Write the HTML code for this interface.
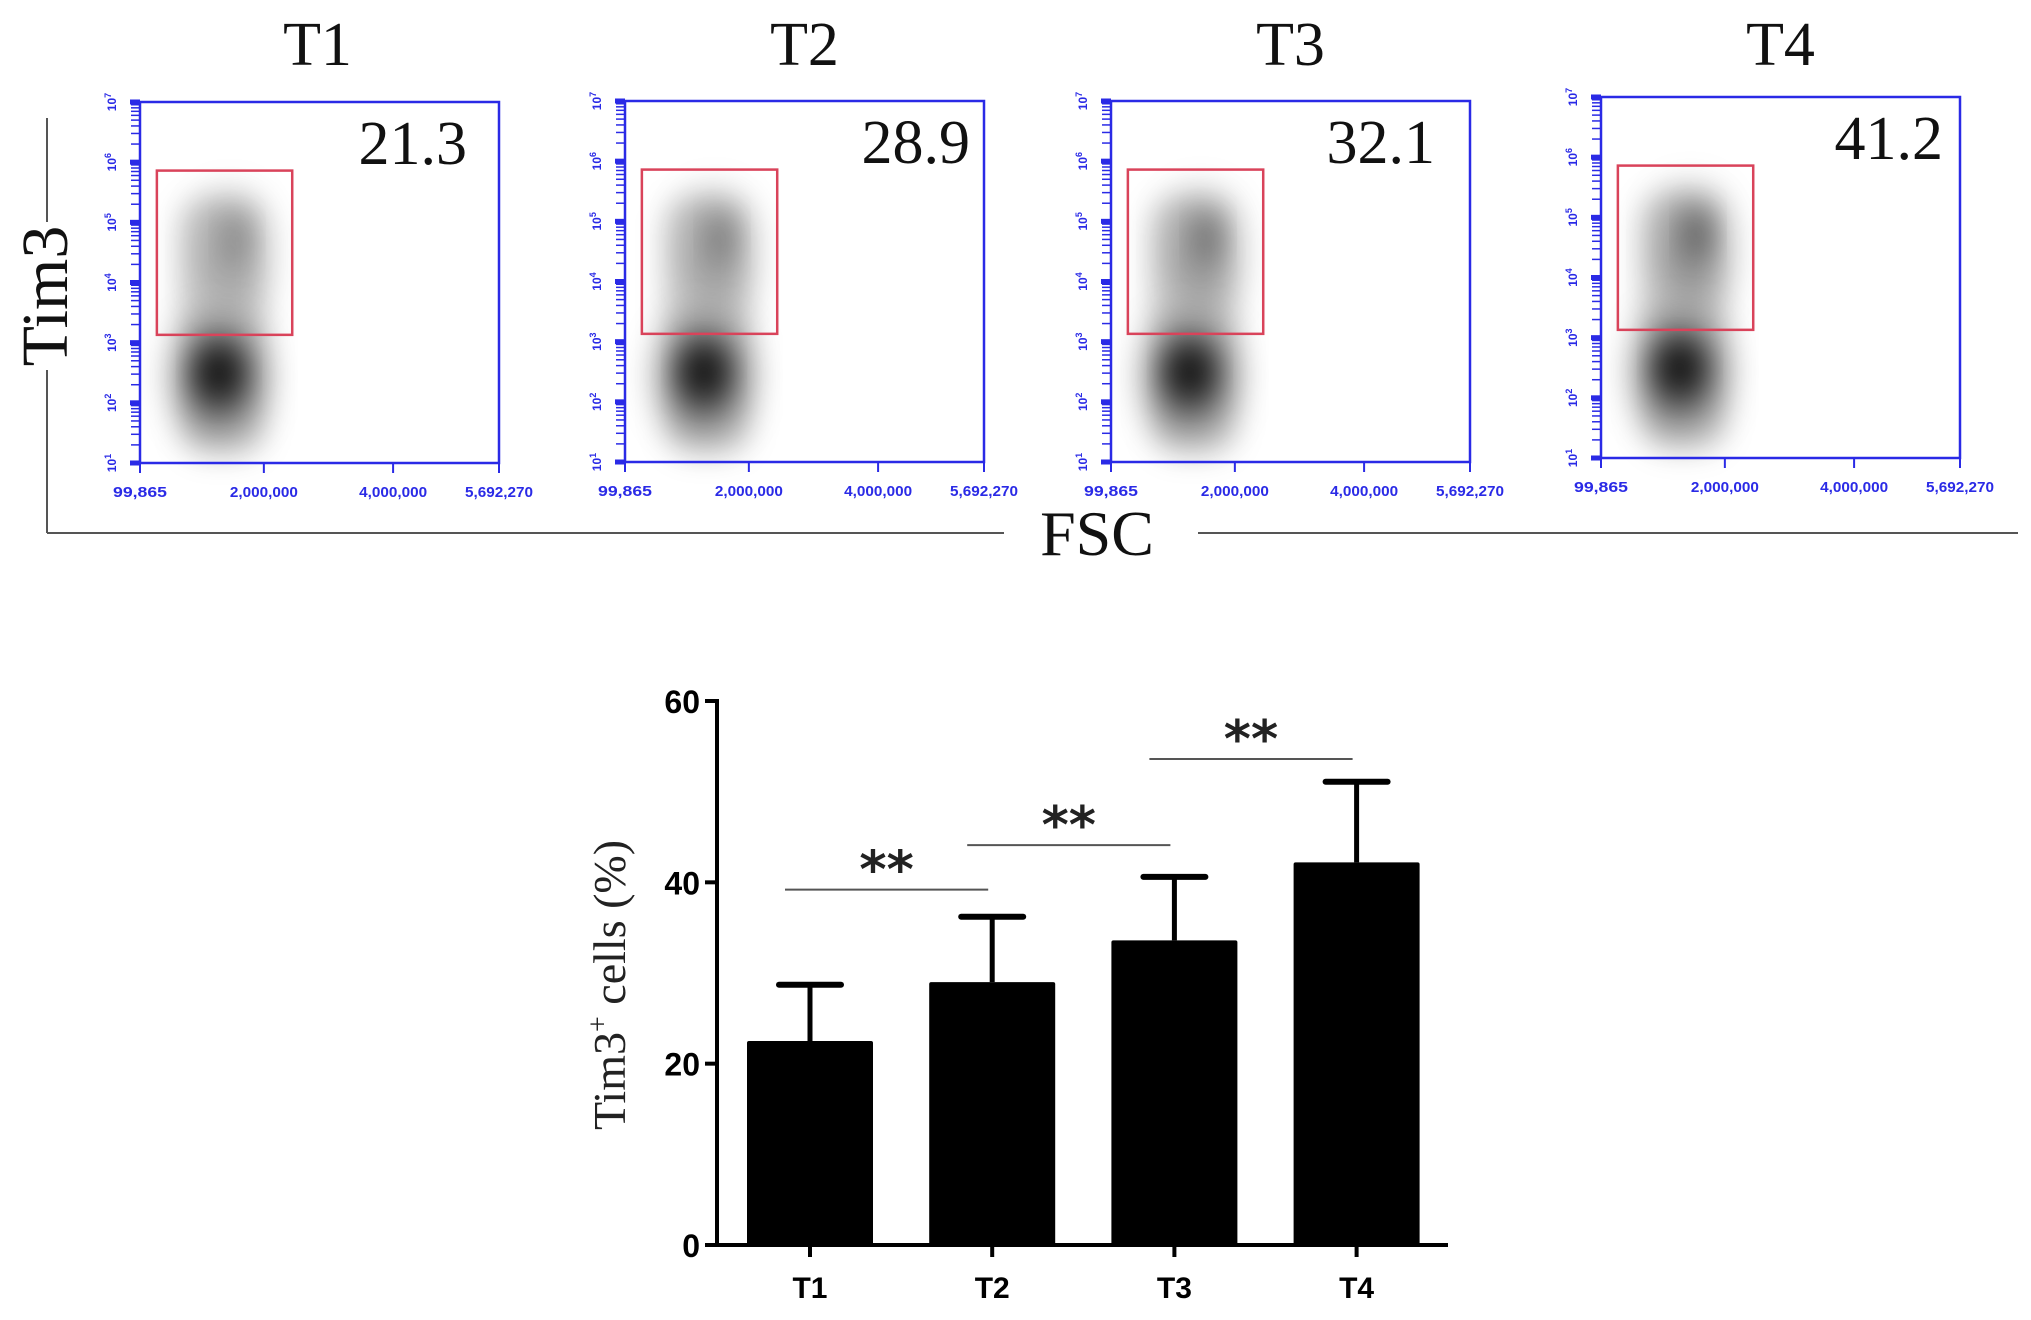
<!DOCTYPE html>
<html><head><meta charset="utf-8"><style>
html,body{margin:0;padding:0;background:#fff}
svg{display:block}
</style></head><body>
<svg id="fig" width="2031" height="1320" viewBox="0 0 2031 1320" xmlns="http://www.w3.org/2000/svg">
<defs>
<filter id="blur8" x="-50%" y="-50%" width="200%" height="200%"><feGaussianBlur stdDeviation="8"/></filter>
<filter id="blur14" x="-50%" y="-50%" width="200%" height="200%"><feGaussianBlur stdDeviation="14"/></filter>
<filter id="blur20" x="-50%" y="-50%" width="200%" height="200%"><feGaussianBlur stdDeviation="20"/></filter>
</defs>
<g id="flow"></g>
<g>
<line x1="47" y1="118" x2="47" y2="222" stroke="#555" stroke-width="2"/>
<line x1="47" y1="370" x2="47" y2="533" stroke="#555" stroke-width="2"/>
<line x1="47" y1="533" x2="1004" y2="533" stroke="#555" stroke-width="2"/>
<line x1="1198" y1="533" x2="2018" y2="533" stroke="#555" stroke-width="2"/>
<text x="0" y="0" transform="translate(67,296) rotate(-90)" text-anchor="middle" font-family="Liberation Serif, serif" font-size="66" fill="#111">Tim3</text>
<text x="1097" y="555" text-anchor="middle" font-family="Liberation Serif, serif" font-size="64" fill="#111">FSC</text>
</g>
<g id="bars"></g>
</svg>
<script>
// ---- flow panels data ----
const panelNames = ["T1","T2","T3","T4"];
const panelPercents = ["21.3","28.9","32.1","41.2"];
const bandIntensity = [0.35, 0.45, 0.55, 0.7];
// ---- bar chart data ----
const categories = ["T1","T2","T3","T4"];
const means = [22.5, 29.0, 33.6, 42.2];
const errors = [6.2, 7.2, 7.0, 8.9];
const yTicks = [0, 20, 40, 60];
const sigPairs = [[0,1],[1,2],[2,3]];
const sigLabels = ["**","**","**"];
const sigLevels = [39.2, 44.1, 53.6];

const NS = "http://www.w3.org/2000/svg";
function mk(tag, attrs, parent){ const e=document.createElementNS(NS,tag); for(const k in attrs) e.setAttribute(k,attrs[k]); parent.appendChild(e); return e; }

// flow panels
const flow = document.getElementById('flow');
const lefts=[140,625,1111,1601], tops=[102,101,101,97];
const pctRight=[32,14,35,17];
const W=359, H=361, blue="#2a2ae6";
panelNames.forEach((nm,i)=>{
  const L=lefts[i], T=tops[i];
  const g=mk('g',{},flow);
  
  
  const t=mk('text',{x:L+W/2+(i===0?-2:0),y:65,'text-anchor':'middle','font-family':'Liberation Serif, serif','font-size':62,fill:'#111'},g);
  t.textContent=nm;
  
  
  // clouds
  const cx=L+W*0.23;
  const k=bandIntensity[i];
  mk('rect',{x:cx-W*0.12,y:T+H*0.26,width:W*0.24,height:H*0.72,rx:30,fill:'#000','fill-opacity':0.2,filter:'url(#blur14)'},g);
  mk('ellipse',{cx:cx+W*0.02,cy:T+H*0.42,rx:W*0.09,ry:H*0.16,fill:'#000','fill-opacity':0.3*k+0.1,filter:'url(#blur20)'},g);
  mk('ellipse',{cx:cx+W*0.04,cy:T+H*0.38,rx:W*0.04,ry:H*0.07,fill:'#000','fill-opacity':0.45*k,filter:'url(#blur14)'},g);
  mk('ellipse',{cx:cx-W*0.01,cy:T+H*0.76,rx:W*0.11,ry:H*0.15,fill:'#000','fill-opacity':0.6,filter:'url(#blur20)'},g);
  mk('ellipse',{cx:cx-W*0.01,cy:T+H*0.75,rx:W*0.06,ry:H*0.07,fill:'#000','fill-opacity':0.75,filter:'url(#blur14)'},g);
  // gate
  const gate=mk('rect',{x:L+W*0.047,y:T+H*0.19,width:W*0.377,height:H*0.455,fill:'none',stroke:'#d9435a','stroke-width':2.5},g);
  
  
  // box
  mk('rect',{x:L,y:T,width:W,height:H,fill:'none',stroke:blue,'stroke-width':2.5},g);
  const p=mk('text',{x:L+W-pctRight[i],y:T+62,'text-anchor':'end','font-family':'Liberation Serif, serif','font-size':62,fill:'#111'},g);
  p.textContent=panelPercents[i];
  
  
  // y ticks
  for(let d=0; d<6; d++){
    const y0=T+H-d*H/6;
    for(let m=2;m<=9;m++){
      const yy=y0-Math.log10(m)*H/6;
      mk('line',{x1:L-9,y1:yy,x2:L,y2:yy,stroke:blue,'stroke-width':1.5},g);
    }
  }
  for(let d=0; d<=6; d++){
    const yy=T+H-d*H/6;
    mk('rect',{x:L-10,y:yy-2.5,width:10,height:5,fill:blue},g);
    const lb=mk('text',{x:0,y:0,transform:`translate(${L-24},${yy}) rotate(-90)`,'text-anchor':'middle','font-family':'Liberation Sans, sans-serif','font-size':12,'font-weight':'bold',fill:blue},g);
    lb.innerHTML='10<tspan dy="-5" font-size="9">'+(d+1)+'</tspan>';
    
    
  }
  // x ticks
  const xt=[[0,'99,865'],[0.345,'2,000,000'],[0.705,'4,000,000'],[1,'5,692,270']];
  xt.forEach(([f,s])=>{
    const xx=L+f*W;
    mk('line',{x1:xx,y1:T+H,x2:xx,y2:T+H+10,stroke:blue,'stroke-width':2},g);
    const lb=mk('text',{x:xx,y:T+H+34,'text-anchor':'middle','font-family':'Liberation Sans, sans-serif','font-size':15,'font-weight':'bold',fill:blue,'textLength':s.length>6?68:54,'lengthAdjust':'spacingAndGlyphs'},g);
    lb.textContent=s;
    
    
  });
});

// bar chart
const bars=document.getElementById('bars');
const X0=717, XEND=1448, Y0=1245, Y60=701;
const yScale=v=>Y0-(v/60)*(Y0-Y60);
const xCenter=i=>810+i*182.2;
const BW=126;
mk('line',{x1:X0,y1:Y60-2,x2:X0,y2:Y0+2,stroke:'#000','stroke-width':4},bars);
mk('line',{x1:X0-2,y1:Y0,x2:XEND,y2:Y0,stroke:'#000','stroke-width':4},bars);
yTicks.forEach(v=>{
  const y=yScale(v);
  mk('line',{x1:X0-12,y1:y,x2:X0,y2:y,stroke:'#000','stroke-width':4},bars);
  const t=mk('text',{x:X0-17,y:y+12,'text-anchor':'end','font-family':'Liberation Sans, sans-serif','font-size':32,'font-weight':'bold',fill:'#000'},bars);
  t.textContent=v;
  
  
});
categories.forEach((c,i)=>{
  const cx=xCenter(i);
  const top=yScale(means[i]), et=yScale(means[i]+errors[i]);
  mk('line',{x1:cx,y1:top,x2:cx,y2:et,stroke:'#000','stroke-width':5},bars);
  mk('line',{x1:cx-31,y1:et,x2:cx+31,y2:et,stroke:'#000','stroke-width':6,'stroke-linecap':'round'},bars);
  const r=mk('rect',{x:cx-BW/2,y:top,width:BW,height:Y0-top,fill:'#000',rx:2},bars);
  
  
  mk('line',{x1:cx,y1:Y0,x2:cx,y2:Y0+12,stroke:'#000','stroke-width':4},bars);
  const t=mk('text',{x:cx,y:Y0+53,'text-anchor':'middle','font-family':'Liberation Sans, sans-serif','font-size':30,'font-weight':'bold',fill:'#000'},bars);
  t.textContent=c;
  
  
});
sigPairs.forEach(([a,b],k)=>{
  const y=yScale(sigLevels[k]);
  const x1=xCenter(a)-25, x2=xCenter(b)-4;
  const l=mk('line',{x1:x1,y1:y,x2:x2,y2:y,stroke:'#555','stroke-width':2},bars);
  
  
  const t=mk('text',{x:(x1+x2)/2,y:y-2,'text-anchor':'middle','font-family':'DejaVu Sans, sans-serif','font-size':52,'font-weight':'bold',fill:'#222'},bars);
  t.textContent=sigLabels[k];
  
  
});
const yt=mk('text',{x:0,y:0,transform:'translate(625,985) rotate(-90)','text-anchor':'middle','font-family':'Liberation Serif, serif','font-size':46,fill:'#222'},bars);
yt.innerHTML='Tim3<tspan dy="-18" font-size="28">+</tspan><tspan dy="18"> cells (%)</tspan>';


</script>
</body></html>
